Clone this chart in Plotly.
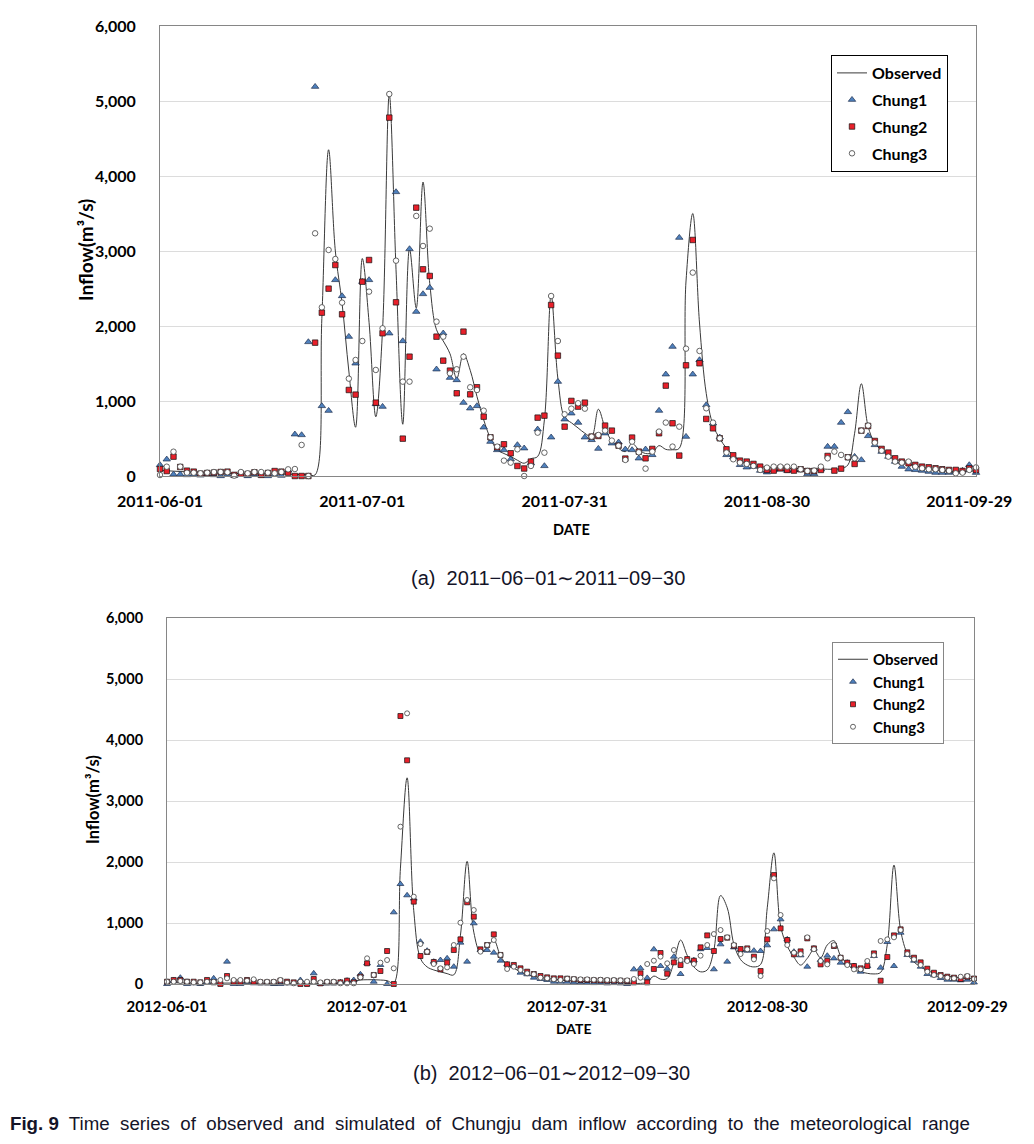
import pandas as pd
import plotly.graph_objects as go

# the page adds an 8px body margin, so the figure is drawn 16px smaller
W, H = 1034 - 16, 1144 - 16
OFF = 8


def fx(px):
    return (px - OFF) / W


def fy(py):
    return 1 - (py - OFF) / H


# daily series, Jun 1 - Sep 30
days_a = pd.date_range("2011-06-01", "2011-09-30", freq="D")
days_b = pd.date_range("2012-06-01", "2012-09-30", freq="D")

ticks_a = ["2011-06-01", "2011-07-01", "2011-07-31", "2011-08-30", "2011-09-29"]
ticks_b = ["2012-06-01", "2012-07-01", "2012-07-31", "2012-08-30", "2012-09-29"]
y_ticks = [0, 1000, 2000, 3000, 4000, 5000, 6000]

# (a) 2011
observed_a = [75, 70, 65, 60, 55, 50, 45, 42, 40, 38,
              36, 34, 32, 31, 30, 29, 28, 27, 26, 25,
              22, 20, 18, 15, 2100, 4350, 3000, 2300, 1400, 650,
              2900, 2050, 790, 1950, 5090, 2750, 690, 3030, 2240, 3920,
              2570, 1950, 1800, 1630, 1300, 1630, 1410, 1060, 750, 500,
              350, 300, 260, 210, 170, 230, 260, 750, 2410, 1300,
              780, 710, 640, 570, 525, 890, 640, 460, 370, 325,
              436, 350, 300, 310, 405, 355, 350, 370, 2600, 3500,
              2040, 1100, 680, 500, 370, 280, 205, 170, 140, 125,
              120, 115, 110, 105, 100, 100, 95, 95, 95, 90,
              90, 98, 147, 570, 1230, 660, 436, 347, 300, 236,
              192, 161, 134, 116, 98, 81, 72, 67, 58, 58,
              62, 70]
chung1_a = [147, 222, 22, 22, 13, 22, 9, 22, 13, 0,
            20, 5, 15, 0, 15, 10, 0, 20, 5, 75,
            556, 547, 1787, 5191, 934, 871, 2614, 2400, 1858, 1502,
            2590, 2614, 960, 925, 1903, 3787, 1800, 3027, 2191, 2427,
            2511, 1423, 1903, 1311, 1280, 978, 903, 934, 649, 458,
            347, 347, 223, 414, 370, 170, 622, 134, 516, 1258,
            756, 836, 712, 516, 481, 365, 570, 436, 450, 356,
            347, 236, 356, 281, 872, 1356, 1725, 3178, 525, 1356,
            1547, 947, 703, 516, 281, 250, 148, 116, 125, 72,
            50, 81, 90, 72, 81, 81, 27, 27, 90, 392,
            392, 712, 854, 258, 214, 534, 414, 325, 258, 192,
            125, 90, 81, 72, 58, 45, 45, 45, 58, 72,
            147, 44]
chung2_a = [93, 66, 258, 120, 71, 58, 31, 40, 45, 53,
            58, 15, 31, 27, 49, 15, 40, 66, 58, 45,
            0, 0, 0, 1778, 2178, 2498, 2813, 2156, 1147, 1085,
            2591, 2880, 978, 1903, 4778, 2316, 498, 1591, 3578, 2756,
            2667, 1858, 1538, 1405, 1103, 1925, 1089, 1183, 791, 516,
            383, 423, 303, 134, 100, 192, 778, 805, 2280, 1605,
            658, 1001, 925, 978, 525, 534, 672, 605, 405, 232,
            512, 325, 236, 361, 570, 1205, 703, 272, 1476, 3147,
            1503, 761, 636, 503, 356, 276, 205, 192, 161, 125,
            81, 72, 103, 81, 72, 90, 67, 67, 81, 267,
            72, 98, 250, 161, 605, 667, 467, 361, 312, 236,
            192, 170, 148, 125, 116, 103, 90, 81, 81, 67,
            102, 80]
chung3_a = [13, 124, 324, 124, 44, 44, 36, 44, 53, 53,
            50, 5, 53, 36, 53, 53, 44, 36, 53, 89,
            93, 414, 0, 3236, 2249, 3014, 2893, 2312, 1298, 1547,
            1800, 2458, 1414, 1969, 5093, 2871, 1258, 1258, 3467, 3067,
            3298, 2058, 1858, 1369, 1423, 1591, 1183, 1147, 871, 516,
            392, 205, 178, 356, 0, 134, 578, 311, 2400, 1800,
            823, 898, 970, 898, 525, 547, 605, 472, 405, 214,
            458, 316, 98, 325, 592, 712, 392, 658, 1698, 2712,
            1667, 903, 712, 503, 312, 223, 178, 161, 134, 81,
            112, 125, 125, 125, 125, 90, 67, 72, 125, 236,
            325, 281, 250, 236, 605, 672, 445, 338, 258, 192,
            178, 192, 125, 103, 90, 90, 81, 70, 36, 45,
            81, 115]

# (b) 2012
observed_b = [20, 20, 18, 18, 17, 17, 16, 16, 15, 15,
              15, 15, 14, 14, 14, 14, 13, 13, 13, 13,
              12, 12, 12, 12, 12, 12, 15, 25, 45, 65,
              70, 70, 65, 55, 15, 1900, 3380, 1200, 420, 280,
              230, 200, 170, 150, 800, 2010, 850, 520, 600, 720,
              460, 320, 260, 200, 160, 125, 105, 90, 78, 66,
              55, 50, 45, 40, 35, 30, 28, 25, 20, 15,
              10, 10, 30, 130, 80, 90, 350, 720, 470, 280,
              200, 230, 560, 1450, 1250, 650, 400, 310, 280, 320,
              1250, 2150, 950, 620, 440, 310, 420, 560, 430, 640,
              710, 460, 330, 230, 200, 175, 165, 190, 650, 1950,
              880, 500, 360, 280, 220, 180, 150, 130, 110, 100,
              90, 85]
chung1_b = [0, 55, 104, 0, 11, 0, 27, 93, 11, 366,
            0, 0, 38, 11, 11, 11, 0, 0, 11, 11,
            66, 11, 175, 0, 11, 11, 27, 55, 66, 159,
            339, 38, 312, 0, 1175, 1639, 1454, 1400, 694, 546,
            366, 393, 421, 284, 678, 366, 995, 557, 557, 514,
            383, 322, 295, 186, 159, 104, 82, 66, 38, 38,
            38, 27, 27, 20, 15, 20, 10, 15, 10, 0,
            240, 257, 100, 568, 295, 250, 448, 164, 390, 390,
            570, 590, 241, 650, 366, 600, 560, 546, 547, 541,
            634, 896, 1060, 732, 530, 470, 284, 580, 395, 464,
            420, 350, 350, 295, 202, 295, 459, 268, 688, 295,
            841, 475, 382, 284, 164, 142, 98, 71, 71, 60,
            71, 25]
chung2_b = [38, 66, 66, 38, 38, 27, 66, 27, 0, 131,
            38, 38, 66, 38, 27, 27, 27, 55, 38, 27,
            0, 0, 82, 11, 27, 27, 27, 55, 27, 120,
            339, 148, 213, 541, 0, 4393, 3667, 1350, 459, 525,
            361, 240, 350, 557, 732, 1339, 1104, 568, 639, 814,
            476, 322, 312, 257, 202, 164, 131, 109, 93, 93,
            87, 77, 66, 66, 60, 60, 55, 55, 55, 50,
            27, 175, 27, 246, 508, 169, 355, 311, 409, 382,
            601, 797, 541, 737, 759, 628, 573, 584, 448, 213,
            732, 1786, 912, 721, 486, 535, 748, 584, 322, 377,
            623, 431, 350, 295, 257, 295, 502, 54, 442, 797,
            896, 519, 431, 355, 251, 185, 147, 120, 104, 82,
            120, 90]
chung3_b = [38, 38, 49, 38, 27, 27, 38, 38, 66, 93,
            66, 66, 55, 77, 38, 38, 38, 66, 22, 11,
            38, 38, 38, 27, 38, 38, 11, 11, 11, 109,
            421, 148, 350, 393, 257, 2579, 4437, 1432, 656, 530,
            328, 257, 273, 639, 1005, 1377, 1213, 530, 639, 721,
            476, 246, 284, 230, 175, 159, 104, 93, 77, 66,
            87, 82, 77, 77, 70, 70, 66, 66, 60, 60,
            82, 104, 328, 382, 448, 339, 557, 393, 377, 328,
            464, 639, 819, 885, 765, 639, 491, 568, 404, 131,
            868, 1732, 1131, 639, 514, 490, 765, 570, 377, 322,
            639, 431, 311, 240, 240, 377, 470, 705, 732, 765,
            885, 491, 404, 311, 202, 147, 131, 104, 93, 120,
            131, 82]

fig = go.Figure()


def add_panel(days, obs, c1, c2, c3, xa, ya, leg, msize):
    fig.add_trace(go.Scatter(x=days, y=obs, mode="lines", name="Observed",
                             line=dict(color="#3a3a3a", width=1, shape="spline", smoothing=1),
                             xaxis=xa, yaxis=ya, legend=leg, legendgroup=leg + "o"))
    fig.add_trace(go.Scatter(x=days, y=c1, mode="markers", name="Chung1", cliponaxis=False,
                             marker=dict(symbol="triangle-up", size=msize + 1, color="#4f81bd",
                                         line=dict(color="#1f2f4f", width=0.7)),
                             xaxis=xa, yaxis=ya, legend=leg, legendgroup=leg + "1"))
    fig.add_trace(go.Scatter(x=days, y=c2, mode="markers", name="Chung2", cliponaxis=False,
                             marker=dict(symbol="square", size=msize, color="#e8202a",
                                         line=dict(color="#111111", width=0.7)),
                             xaxis=xa, yaxis=ya, legend=leg, legendgroup=leg + "2"))
    fig.add_trace(go.Scatter(x=days, y=c3, mode="markers", name="Chung3", cliponaxis=False,
                             marker=dict(symbol="circle", size=msize, color="white",
                                         line=dict(color="#404040", width=0.8)),
                             xaxis=xa, yaxis=ya, legend=leg, legendgroup=leg + "3"))


add_panel(days_a, observed_a, chung1_a, chung2_a, chung3_a, "x", "y", "legend", 5.5)
add_panel(days_b, observed_b, chung1_b, chung2_b, chung3_b, "x2", "y2", "legend2", 5)

border = "#868686"
bold = dict(family="Lato", color="black", weight="bold")


def xaxis(dom, rng, ticks, size, anchor, standoff):
    return dict(domain=dom, range=rng, tickvals=ticks, ticktext=ticks, anchor=anchor,
                automargin=False, showline=True, mirror=True, linecolor=border, linewidth=1,
                showgrid=False, zeroline=False, ticks="", ticklabelstandoff=standoff,
                tickfont=dict(size=size, **bold))


def yaxis(dom, size, anchor):
    return dict(domain=dom, range=[0, 6000], tickvals=y_ticks, tickformat=",d", anchor=anchor,
                automargin=False, showline=True, mirror=True, linecolor=border, linewidth=1,
                showgrid=True, gridcolor="#dcdcdc", zeroline=False, ticks="",
                ticklabelstandoff=20, tickfont=dict(size=size, **bold))


fig.update_layout(
    width=W, height=H, margin=dict(l=0, r=0, t=0, b=0, autoexpand=False),
    paper_bgcolor="white", plot_bgcolor="white",
    xaxis=xaxis([fx(160), fx(976)], ["2011-06-01", "2011-09-30"], ticks_a, 16, "y", 11),
    yaxis=yaxis([fy(476), fy(26)], 16, "x"),
    xaxis2=xaxis([fx(167), fx(974)], ["2012-06-01", "2012-09-30"], ticks_b, 15, "y2", 9),
    yaxis2=yaxis([fy(984), fy(618)], 14.5, "x2"),
    legend=dict(x=fx(831), y=fy(55), xanchor="left", yanchor="top",
                bordercolor="black", borderwidth=1, bgcolor="white",
                traceorder="grouped", tracegroupgap=3, itemwidth=30,
                font=dict(size=16, **bold)),
    legend2=dict(x=fx(832), y=fy(642), xanchor="left", yanchor="top",
                 bordercolor=border, borderwidth=1, bgcolor="white",
                 traceorder="grouped", tracegroupgap=0, itemwidth=30,
                 font=dict(size=15, **bold)),
)

notes = [
    ("Inflow(m³/s)", 85, 250, 19, -90),
    ("DATE", 571, 529, 14.5, 0),
    ("Inflow(m³/s)", 93, 800, 16.5, -90),
    ("DATE", 574, 1028, 14, 0),
]
for text, x, y, size, ang in notes:
    fig.add_annotation(text=text, x=fx(x), y=fy(y), xref="paper", yref="paper",
                       showarrow=False, textangle=ang, xanchor="center", yanchor="middle",
                       font=dict(size=size, **bold))

cap = dict(family="Liberation Sans", color="#141428")
fig.add_annotation(text="(a)  2011−06−01∼2011−09−30", x=fx(548), y=fy(578),
                   xref="paper", yref="paper", showarrow=False, font=dict(size=20, **cap))
fig.add_annotation(text="(b)  2012−06−01∼2012−09−30", x=fx(551), y=fy(1086),
                   xref="paper", yref="paper", showarrow=False, font=dict(size=20, **cap))
fig.add_annotation(text="<b>Fig. 9</b>  Time  series  of  observed  and  simulated  of  Chungju  dam  inflow  according  to  the  meteorological  range",
                   x=fx(8), y=fy(1136), xref="paper", yref="paper", xanchor="left",
                   showarrow=False, font=dict(size=18.7, **cap))

fig.write_html("out.html")
